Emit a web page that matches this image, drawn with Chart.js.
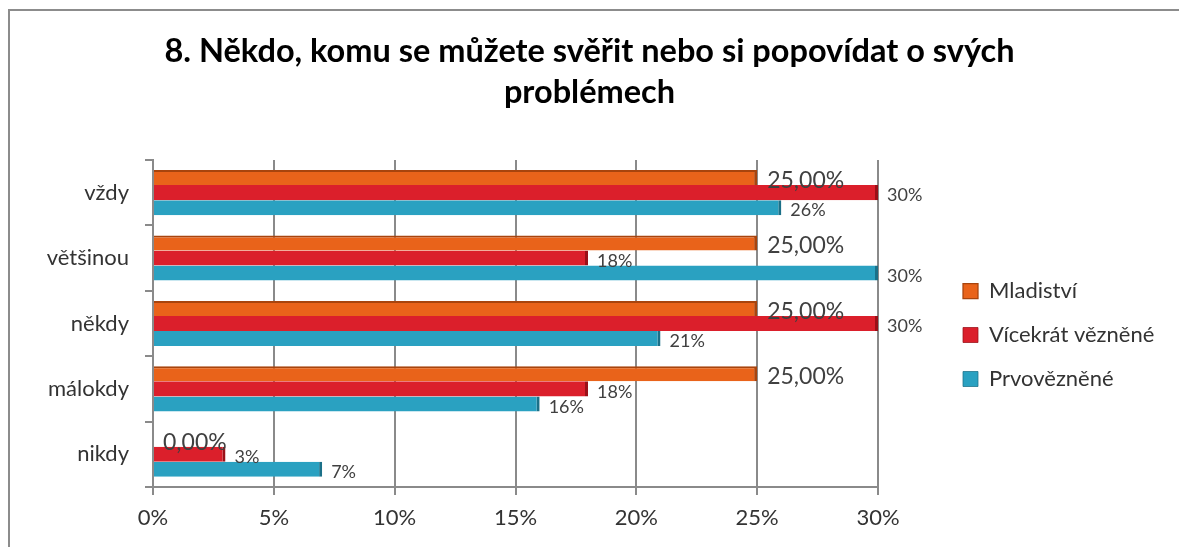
<!DOCTYPE html>
<html>
<head>
<meta charset="utf-8">
<script src="https://cdn.jsdelivr.net/npm/chart.js@4/dist/chart.umd.min.js"></script>
<style>
  body { margin: 0; background: #fff; }
  #wrap { width: 1179px; height: 547px; position: relative; }
</style>
</head>
<body>
<div id="wrap"><canvas id="chart"></canvas></div>
<script>
// data
var categories = ['vždy', 'většinou', 'někdy', 'málokdy', 'nikdy'];
var seriesNames = ['Mladiství', 'Vícekrát vězněné', 'Prvovězněné'];
var mladistvi = [25, 25, 25, 25, 0];
var vicekrat = [30, 18, 30, 18, 3];
var prvo = [26, 30, 21, 16, 7];
var xTicks = [0, 5, 10, 15, 20, 25, 30];

var colors = ['#E9631A', '#DB1F2B', '#2AA1C1'];
var capColors = ['#A8440D', '#9A1018', '#1B7088'];
var fontFam = 'Lato, "Open Sans", sans-serif';

// frame line top and left
var framePlugin = {
    id: 'frame',
    beforeDraw: function(chart) {
        var ctx = chart.ctx;
        ctx.save();
        ctx.strokeStyle = '#8c8c8c';
        ctx.lineWidth = 2;
        ctx.beginPath();
        ctx.moveTo(9, chart.height);
        ctx.lineTo(9, 10);
        ctx.lineTo(chart.width, 10);
        ctx.stroke();
        ctx.restore();
    }
};

// legend: reserve a wide column on the right and put the items where the original has them
var legendPlace = {
    id: 'legendPlace',
    afterInit: function(chart) {
        var lg = chart.legend;
        var origFit = lg.fit;
        lg.fit = function() {
            origFit.call(this);
            this.width = 291;
        };
    },
    afterLayout: function(chart) {
        var lg = chart.legend;
        var pad = lg.options.labels.padding;
        var dx = 963 - (lg.left + pad);
        lg.left += dx; lg.right += dx;
        var h = lg.height;
        lg.top = 280 - pad;
        lg.bottom = lg.top + h;
    }
};

// value labels next to the bars
var labelPlugin = {
    id: 'valueLabels',
    afterDatasetsDraw: function(chart) {
        var ctx = chart.ctx;
        ctx.save();
        ctx.fillStyle = '#404040';
        ctx.textBaseline = 'middle';
        ctx.textAlign = 'left';
        chart.data.datasets.forEach(function(ds, i) {
            var meta = chart.getDatasetMeta(i);
            meta.data.forEach(function(bar, j) {
                var v = ds.data[j];
                if (i === 0) {
                    ctx.font = '23px ' + fontFam;
                    ctx.fillText(v.toFixed(2).replace('.', ',') + '%', bar.x + 10, bar.y + 3);
                } else {
                    ctx.font = '18px ' + fontFam;
                    ctx.fillText(v + '%', bar.x + 9, bar.y + 3);
                }
            });
        });
        ctx.restore();
    }
};

var ctx = document.getElementById('chart').getContext('2d');
new Chart(ctx, {
    type: 'bar',
    data: {
        labels: categories,
        datasets: [
            { label: seriesNames[0], data: mladistvi, backgroundColor: colors[0], borderColor: capColors[0],
              borderWidth: { top: 2, right: 3, bottom: 0, left: 0 }, borderSkipped: false },
            { label: seriesNames[1], data: vicekrat, backgroundColor: colors[1], borderColor: capColors[1],
              borderWidth: { top: 0, right: 3, bottom: 0, left: 0 }, borderSkipped: false },
            { label: seriesNames[2], data: prvo, backgroundColor: colors[2], borderColor: capColors[2],
              borderWidth: { top: 0, right: 3, bottom: 0, left: 0 }, borderSkipped: false }
        ]
    },
    options: {
        indexAxis: 'y',
        responsive: true,
        maintainAspectRatio: false,
        animation: false,
        layout: { padding: { left: 10, right: 10, top: 0, bottom: 0 } },
        datasets: { bar: { barPercentage: 1, categoryPercentage: 0.69 } },
        scales: {
            x: {
                min: 0,
                max: 30,
                afterBuildTicks: function(s) { s.ticks = xTicks.map(function(v) { return { value: v }; }); },
                afterFit: function(s) { s.height = 60; },
                grid: { color: '#8a8a8a', lineWidth: 2, tickLength: 8 },
                border: { color: '#8a8a8a', width: 2 },
                ticks: {
                    padding: 10,
                    color: '#333',
                    font: { family: fontFam, size: 22 },
                    callback: function(v) { return v + '%'; }
                }
            },
            y: {
                afterFit: function(s) { s.width = 143; },
                grid: { offset: true, drawOnChartArea: false, color: '#8a8a8a', lineWidth: 2, tickLength: 8 },
                border: { color: '#8a8a8a', width: 2 },
                ticks: { padding: 16, color: '#333', font: { family: fontFam, size: 22 } }
            }
        },
        plugins: {
            title: {
                display: true,
                text: ['8. Někdo, komu se můžete svěřit nebo si popovídat o svých', 'problémech'],
                color: '#000',
                font: { family: fontFam, size: 32.5, weight: 'bold', lineHeight: 1.26 },
                padding: { top: 31, bottom: 47 }
            },
            legend: {
                position: 'right',
                align: 'start',
                labels: {
                    boxWidth: 15,
                    boxHeight: 15,
                    padding: 22,
                    color: '#333',
                    font: { family: fontFam, size: 22 }
                }
            },
            tooltip: { enabled: false }
        }
    },
    plugins: [framePlugin, legendPlace, labelPlugin]
});
</script>
</body>
</html>
